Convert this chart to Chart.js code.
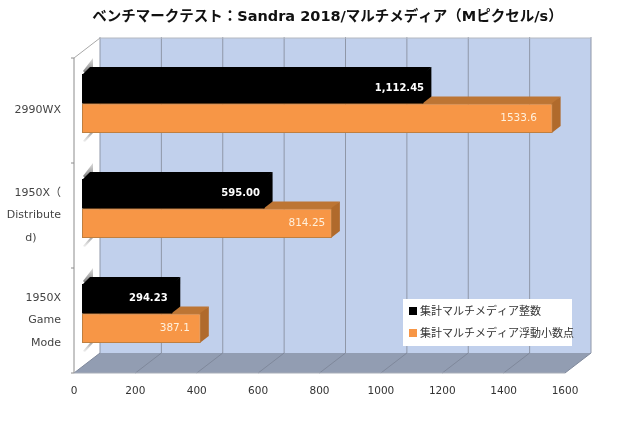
<!DOCTYPE html>
<html>
<head>
<meta charset="utf-8">
<style>
  html, body { margin: 0; padding: 0; background: #fff; }
  canvas { display: block; }
</style>
<script src="https://cdn.jsdelivr.net/npm/chart.js@4"></script>
</head>
<body>
<canvas id="chart" width="620" height="423"></canvas>
<script>
const categories = ['2990WX', ['1950X（', 'Distribute', 'd)       '], ['1950X', 'Game', 'Mode']];
const integerValues = [1112.45, 595.00, 294.23];
const floatValues = [1533.6, 814.25, 387.1];
const integerLabels = ['1,112.45', '595.00', '294.23'];
const floatLabels = ['1533.6', '814.25', '387.1'];
const seriesNames = ['集計マルチメディア整数', '集計マルチメディア浮動小数点'];
const titleText = 'ベンチマークテスト：Sandra 2018/マルチメディア（Mピクセル/s）';

const FONT = '"DejaVu Sans", "Noto Sans CJK JP", sans-serif';
const CJK_FONT = '"Noto Sans CJK JP", sans-serif';

// depth of the fake 3D box, relative to the plane the bars stand on
const BACK = { x: 18, y: -13 };
const FRONT = { x: -8, y: 7 };
const BAR_DEPTH = { x: 8, y: -7 };

function poly(ctx, pts, fill, stroke) {
  ctx.beginPath();
  pts.forEach((p, i) => i ? ctx.lineTo(p[0], p[1]) : ctx.moveTo(p[0], p[1]));
  ctx.closePath();
  if (fill) { ctx.fillStyle = fill; ctx.fill(); }
  if (stroke) { ctx.strokeStyle = stroke; ctx.lineWidth = 1; ctx.stroke(); }
}

function line(ctx, x1, y1, x2, y2, color) {
  ctx.beginPath();
  ctx.moveTo(x1, y1);
  ctx.lineTo(x2, y2);
  ctx.strokeStyle = color;
  ctx.lineWidth = 1;
  ctx.stroke();
}

const box3d = {
  id: 'box3d',
  afterLayout(chart) {
    // layout leaves the plot a few px short at the top, pin it
    const y = chart.scales.y, a = chart.chartArea;
    y.top = a.top = 51;
    y.height = a.height = a.bottom - 51;
    y.configure();
  },
  beforeDatasetsDraw(chart) {
    const { ctx, chartArea: a, scales: { x, y } } = chart;
    const bl = a.left + BACK.x, br = a.right + BACK.x;
    const bt = a.top + BACK.y, bb = a.bottom + BACK.y;
    const fl = a.left + FRONT.x, fr = a.right + FRONT.x;
    const ft = a.top + FRONT.y, fb = a.bottom + FRONT.y;
    ctx.save();
    ctx.fillStyle = '#c1d0ec';
    ctx.fillRect(bl, bt, br - bl, bb - bt);
    poly(ctx, [[bl, bb], [br, bb], [fr, fb], [fl, fb]], '#929db2');
    x.ticks.forEach(t => {
      const px = x.getPixelForValue(t.value);
      line(ctx, px + BACK.x, bt - 1, px + BACK.x, bb, '#8f97a8');
      line(ctx, px + BACK.x, bb, px + FRONT.x, fb, '#7f889b');
    });
    line(ctx, bl, bt, br, bt, '#b4b8c0');
    line(ctx, fl, ft, bl, bt, '#a8a8a8');
    line(ctx, fl, ft, fl, fb, '#8c8c8c');
    line(ctx, fl, fb, fr, fb, '#a8adb8');
    const band = y.height / categories.length;
    for (let i = 0; i <= categories.length; i++) {
      const py = ft + band * i;
      line(ctx, fl - 3, py, fl, py, '#8c8c8c');
    }
    ctx.restore();
  },
  beforeDatasetDraw(chart, args) {
    const { ctx } = chart;
    const colors = args.index === 0
      ? { top: '#000', side: '#000' }
      : { top: '#bd7534', side: '#b06a2c' };
    ctx.save();
    args.meta.data.forEach(bar => {
      const x0 = bar.base, x1 = bar.x;
      const t = bar.y - bar.height / 2, b = bar.y + bar.height / 2;
      const dx = BAR_DEPTH.x, dy = BAR_DEPTH.y;
      // soft shadow the bar leaves on the side wall
      if (args.index === 0) {
        const g = ctx.createLinearGradient(0, t - 16, 0, t);
        g.addColorStop(0, 'rgba(150,150,150,0.35)');
        g.addColorStop(1, 'rgba(70,70,70,0.8)');
        poly(ctx, [[x0 + 1, t - 3], [x0 + 11, t - 16], [x0 + 11, t - 7], [x0 + 3, t - 1]], g);
      } else {
        const g = ctx.createLinearGradient(0, b, 0, b + 9);
        g.addColorStop(0, 'rgba(130,130,130,0.7)');
        g.addColorStop(1, 'rgba(200,200,200,0.3)');
        poly(ctx, [[x0 + 1, b + 8], [x0 + 8, b], [x0 + 11, b], [x0 + 3, b + 9]], g);
      }
      // faces run 1px under the front so no seam shows
      poly(ctx, [[x0, t + 1], [x0 + dx, t + dy], [x1 + dx, t + dy], [x1, t + 1]], colors.top);
      poly(ctx, [[x1 - 1, t], [x1 + dx, t + dy], [x1 + dx, b + dy], [x1 - 1, b]], colors.side);
    });
    ctx.restore();
  },
  afterDatasetsDraw(chart) {
    const { ctx } = chart;
    const floatShift = [-34, -25, -26];
    ctx.save();
    ctx.textAlign = 'center';
    ctx.textBaseline = 'middle';
    ctx.fillStyle = '#fff';
    ctx.font = 'bold 10px ' + FONT;
    chart.getDatasetMeta(0).data.forEach((bar, i) => {
      ctx.fillText(integerLabels[i], bar.x - 24, bar.y);
    });
    ctx.font = '10.5px ' + FONT;
    ctx.fillStyle = '#fff0dc';
    chart.getDatasetMeta(1).data.forEach((bar, i) => {
      ctx.fillText(floatLabels[i], bar.x + floatShift[i], bar.y);
    });
    ctx.restore();
  },
  afterDraw(chart) {
    // legend sits inside the plot on a white card
    const { ctx } = chart;
    const swatches = ['#000', '#f79646'];
    ctx.save();
    ctx.fillStyle = '#fff';
    ctx.fillRect(403, 299, 169, 47);
    ctx.textAlign = 'left';
    ctx.textBaseline = 'middle';
    ctx.font = '11px ' + CJK_FONT;
    seriesNames.forEach((name, i) => {
      const cy = 311 + i * 22;
      ctx.fillStyle = swatches[i];
      ctx.fillRect(409, cy - 4, 8, 8);
      ctx.fillStyle = '#333';
      ctx.fillText(name, 420, cy);
    });
    ctx.restore();
  }
};

new Chart(document.getElementById('chart'), {
  type: 'bar',
  data: {
    labels: categories,
    datasets: [
      { label: seriesNames[0], data: integerValues, backgroundColor: '#000', borderWidth: 0 },
      { label: seriesNames[1], data: floatValues, backgroundColor: '#f79646', borderColor: '#bf7f40', borderWidth: 1, borderSkipped: false }
    ]
  },
  options: {
    indexAxis: 'y',
    responsive: false,
    animation: false,
    devicePixelRatio: 1,
    layout: { autoPadding: false, padding: { left: 0, right: 47, top: 0, bottom: 0 } },
    categoryPercentage: 0.562,
    barPercentage: 1,
    plugins: {
      legend: { display: false },
      tooltip: { enabled: false },
      title: {
        display: true,
        text: titleText,
        fullSize: false,
        color: '#111',
        font: { family: FONT, size: 14.5, weight: 'bold', lineHeight: 1.2 },
        padding: { top: 4.5, bottom: 29.1 }
      }
    },
    scales: {
      x: {
        min: 0,
        max: 1600,
        afterFit: s => { s.height = 57; },
        grid: { display: false, drawTicks: false },
        border: { display: false },
        ticks: {
          stepSize: 200, maxRotation: 0, labelOffset: -8, padding: 19, color: '#333',
          font: { family: FONT, size: 10.5 },
          callback: v => String(v)
        }
      },
      y: {
        afterFit: s => { s.width = 82; },
        grid: { display: false, drawTicks: false },
        border: { display: false },
        ticks: { autoSkip: false, labelOffset: 7, padding: 21, color: '#444', font: { family: FONT, size: 11, lineHeight: 2.05 } }
      }
    }
  },
  plugins: [box3d]
});
</script>
</body>
</html>
